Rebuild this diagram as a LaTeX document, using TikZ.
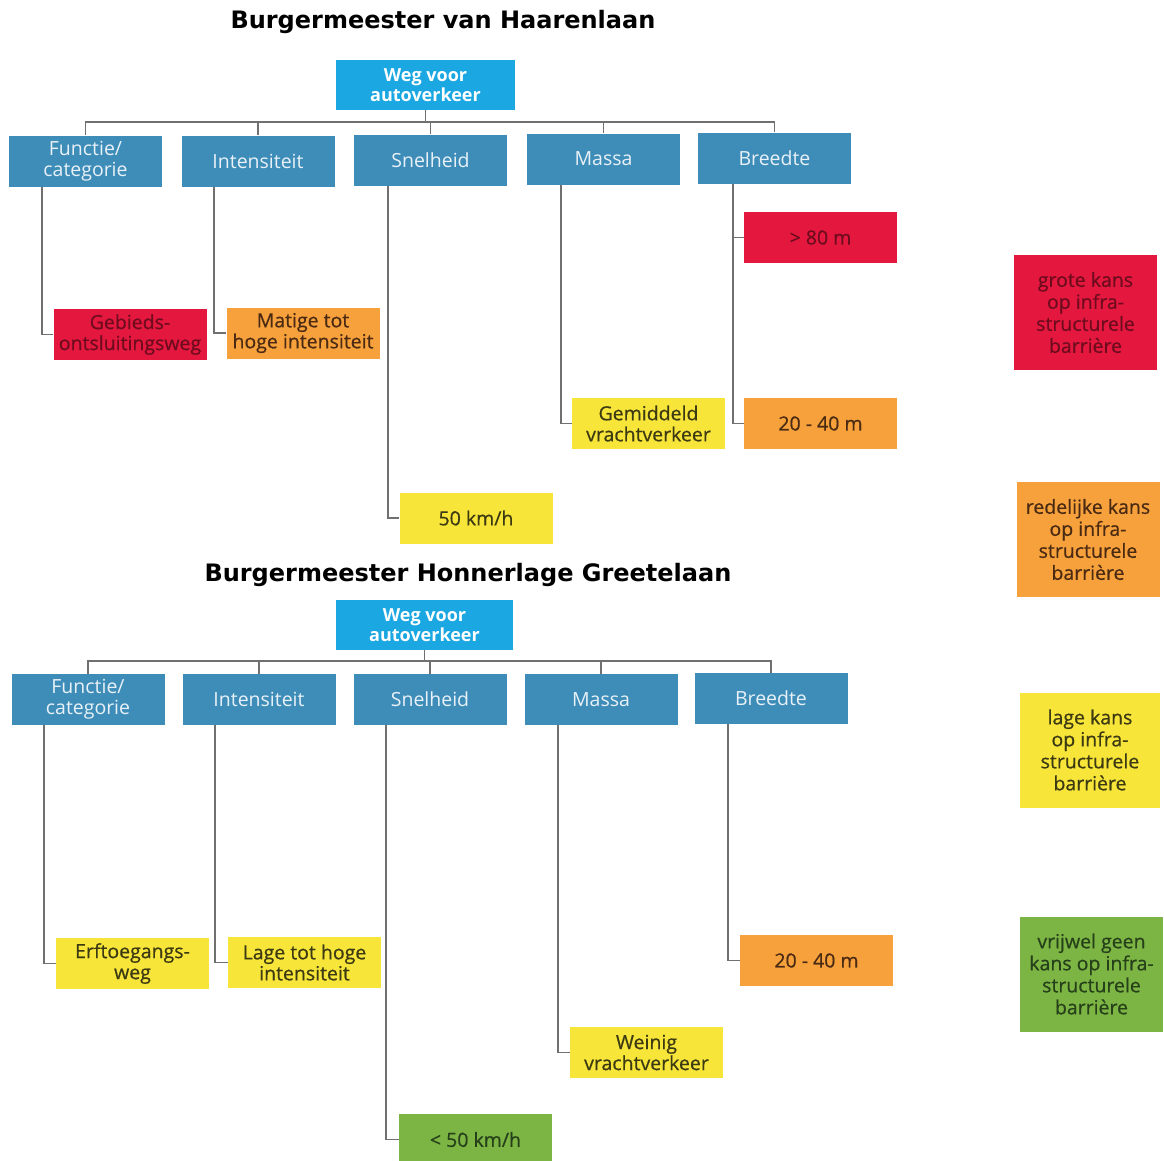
\documentclass[tikz,border=0pt]{standalone}
\usepackage{fontspec}
\setmainfont{Open Sans}
\newfontfamily\titlefont{DejaVu Sans}
\usepackage{tikz}
\usepackage{xcolor}
\usetikzlibrary{positioning,calc}
\definecolor{rootblue}{HTML}{1BA7E1}
\definecolor{catblue} {HTML}{3E8DB9}
\definecolor{linegray}{HTML}{707070}
\definecolor{barred}  {HTML}{E4173F}
\definecolor{barorng} {HTML}{F6A13C}
\definecolor{baryell} {HTML}{F8E53A}
\definecolor{bargreen}{HTML}{7DB544}
\definecolor{redtxt}  {HTML}{6E0C1E}
\definecolor{orngtxt} {HTML}{4A2A12}
\definecolor{yelltxt} {HTML}{3C3A12}
\definecolor{greentxt}{HTML}{26401A}
\tikzset{
  box/.style     ={draw=none, inner sep=0pt, align=center,
                   minimum width=153pt, minimum height=51pt,
                   font=\fontsize{19.5}{21}\selectfont\addfontfeature{FakeBold=0.6}},
  rootbox/.style ={box, fill=rootblue, text=white, minimum width=179pt,
                   minimum height=50pt, font=\fontsize{18}{20}\selectfont\bfseries},
  catbox/.style  ={box, fill=catblue, text=white!88!catblue,
                   font=\fontsize{19.5}{21}\selectfont},
  redbox/.style  ={box, fill=barred, text=redtxt},
  orngbox/.style ={box, fill=barorng, text=orngtxt},
  yellbox/.style ={box, fill=baryell, text=yelltxt},
  greenbox/.style={box, fill=bargreen, text=greentxt},
  legend/.style  ={minimum width=143pt, minimum height=115pt,
                   font=\fontsize{19.5}{22}\selectfont\addfontfeature{FakeBold=0.6}},
  link/.style    ={draw=linegray, line width=1.8pt},
  title/.style   ={font=\titlefont\fontsize{24}{26}\selectfont\bfseries},
}
\begin{document}
\begin{tikzpicture}[x=1pt,y=-1pt]
  \useasboundingbox[fill=white] (0,0) rectangle (1164,1160);

  % upper tree
  \node[title] (t1) at (443,22) {Burgermeester van Haarenlaan};
  \node[rootbox] (r1) at (425.5,85) {Weg voor\\autoverkeer};

  \node[catbox] (f1) at (85.5,161) {Functie/\\categorie};
  \node[catbox] (i1) at (258,161) {Intensiteit};
  \node[catbox] (s1) at (430.5,160) {Snelheid};
  \node[catbox] (m1) at (603.5,159) {Massa};
  \node[catbox] (b1) at (774.5,158) {Breedte};

  \node[redbox]  (g1)  at (130,334.5) {Gebieds-\\ontsluitingsweg};
  \node[orngbox] (mt1) at (303,333) {Matige tot\\hoge intensiteit};
  \node[yellbox] (v1)  at (476,518) {50 km/h};
  \node[yellbox] (gv1) at (648.5,423.5) {Gemiddeld\\vrachtverkeer};
  \node[redbox]  (w1)  at (820.5,237.5) {> 80 m};
  \node[orngbox] (w2)  at (820.5,423.5) {20 - 40 m};

  \draw[link] (r1.south) -- ++(0,12) -| (f1.north);
  \draw[link] (r1.south) -- ++(0,12) -| (i1.north);
  \draw[link] (r1.south) -- ++(0,12) -| (s1.north);
  \draw[link] (r1.south) -- ++(0,12) -| (m1.north);
  \draw[link] (r1.south) -- ++(0,12) -| (b1.north);

  \draw[link] ([xshift=33pt]f1.south west) |- (g1.west);
  \draw[link] ([xshift=33pt]i1.south west) |- (mt1.west);
  \draw[link] ([xshift=34pt]s1.south west) |- (v1.west);
  \draw[link] ([xshift=34pt]m1.south west) |- (gv1.west);
  \draw[link] ([xshift=35pt]b1.south west) |- (w1.west);
  \draw[link] ([xshift=35pt]b1.south west) |- (w2.west);

  % lower tree
  \node[title] (t2) at (468,575) {Burgermeester Honnerlage Greetelaan};
  \node[rootbox,minimum width=177pt] (r2) at (424.5,625) {Weg voor\\autoverkeer};

  \node[catbox] (f2) at (88,699.5) {Functie/\\categorie};
  \node[catbox] (i2) at (259,699.5) {Intensiteit};
  \node[catbox] (s2) at (430,699.5) {Snelheid};
  \node[catbox] (m2) at (601,699.5) {Massa};
  \node[catbox] (b2) at (771,698.5) {Breedte};

  \node[yellbox]  (e2)  at (132.5,963.5) {Erftoegangs-\\weg};
  \node[yellbox]  (l2)  at (304.5,962.5) {Lage tot hoge\\intensiteit};
  \node[greenbox] (v2)  at (475.5,1139.5) {< 50 km/h};
  \node[yellbox]  (wv2) at (646.5,1052.5) {Weinig\\vrachtverkeer};
  \node[orngbox]  (w3)  at (816.5,960.5) {20 - 40 m};

  \draw[link] (r2.south) -- ++(0,11) -| (f2.north);
  \draw[link] (r2.south) -- ++(0,11) -| (i2.north);
  \draw[link] (r2.south) -- ++(0,11) -| (s2.north);
  \draw[link] (r2.south) -- ++(0,11) -| (m2.north);
  \draw[link] (r2.south) -- ++(0,11) -| (b2.north);

  \draw[link] ([xshift=33pt]f2.south west) |- (e2.west);
  \draw[link] ([xshift=33pt]i2.south west) |- (l2.west);
  \draw[link] ([xshift=33pt]s2.south west) |- (v2.west);
  \draw[link] ([xshift=34pt]m2.south west) |- (wv2.west);
  \draw[link] ([xshift=34pt]b2.south west) |- (w3.west);

  % legend
  \node[redbox,legend]   (k1) at (1085.5,312.5) {grote kans\\op infra-\\structurele\\barrière};
  \node[orngbox,legend]  (k2) at (1088,539.5) {redelijke kans\\op infra-\\structurele\\barrière};
  \node[yellbox,legend,minimum width=140pt] (k3) at (1090,750) {lage kans\\op infra-\\structurele\\barrière};
  \node[greenbox,legend] (k4) at (1091.5,974) {vrijwel geen\\kans op infra-\\structurele\\barrière};
\end{tikzpicture}
\end{document}
